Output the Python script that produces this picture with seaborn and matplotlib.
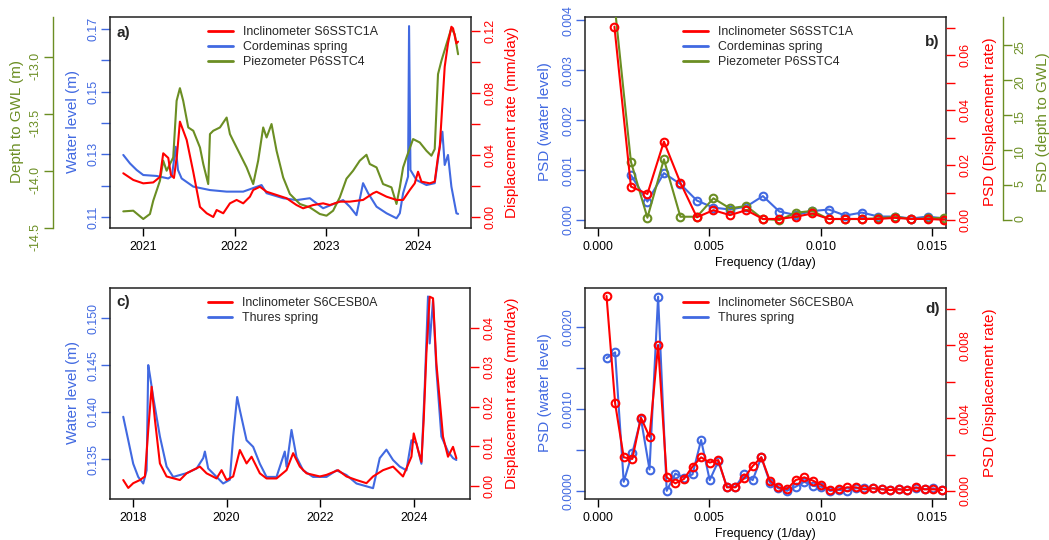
import numpy as np
import pandas as pd
import seaborn as sns
import matplotlib
matplotlib.use("Agg")
import matplotlib.pyplot as plt
from matplotlib.lines import Line2D

# ---------------- data ----------------
# Panel a: time series (decimal year)
a_blue_t = [2020.785, 2020.858, 2020.931, 2021.003, 2021.149, 2021.276, 2021.316, 2021.357, 2021.382,
            2021.422, 2021.549, 2021.731, 2021.913, 2022.094, 2022.294, 2022.349, 2022.530, 2022.676,
            2022.821, 2022.966, 2023.184, 2023.257, 2023.330, 2023.402, 2023.457, 2023.549, 2023.658,
            2023.767, 2023.803, 2023.839, 2023.893, 2023.904, 2023.919, 2023.985, 2024.094, 2024.184,
            2024.239, 2024.268, 2024.293, 2024.329, 2024.366, 2024.421, 2024.439]
a_blue_v = [0.1298, 0.1271, 0.1250, 0.1234, 0.1231, 0.1223, 0.1231, 0.1324, 0.1250,
            0.1223, 0.1197, 0.1186, 0.1181, 0.1181, 0.1202, 0.1176, 0.1160, 0.1154,
            0.1160, 0.1128, 0.1154, 0.1133, 0.1106, 0.1208, 0.1176, 0.1133, 0.1112,
            0.1096, 0.1112, 0.1176, 0.1229, 0.1709, 0.1250, 0.1218, 0.1202, 0.1208,
            0.1324, 0.1372, 0.1266, 0.1298, 0.1197, 0.1112, 0.1110]

a_red_t = [2020.785, 2020.894, 2021.003, 2021.112, 2021.185, 2021.221, 2021.276, 2021.305, 2021.338,
           2021.371, 2021.403, 2021.477, 2021.549, 2021.622, 2021.695, 2021.767, 2021.804, 2021.876,
           2021.949, 2022.022, 2022.094, 2022.167, 2022.203, 2022.276, 2022.349, 2022.458, 2022.567,
           2022.676, 2022.748, 2022.857, 2022.966, 2023.039, 2023.148, 2023.257, 2023.402, 2023.511,
           2023.549, 2023.658, 2023.767, 2023.839, 2023.912, 2023.966, 2024.002, 2024.039, 2024.130,
           2024.184, 2024.220, 2024.239, 2024.293, 2024.329, 2024.366, 2024.384, 2024.421, 2024.439]
a_red_v = [0.0282, 0.0239, 0.0217, 0.0223, 0.0258, 0.0411, 0.0381, 0.0271, 0.0252,
           0.0400, 0.0615, 0.0497, 0.0290, 0.0065, 0.0024, 0.0000, 0.0045, 0.0024,
           0.0088, 0.0110, 0.0088, 0.0131, 0.0174, 0.0195, 0.0163, 0.0142, 0.0121,
           0.0077, 0.0056, 0.0077, 0.0088, 0.0077, 0.0099, 0.0099, 0.0110, 0.0153,
           0.0163, 0.0131, 0.0110, 0.0110, 0.0174, 0.0217, 0.0292, 0.0228, 0.0217,
           0.0228, 0.0389, 0.0453, 0.0969, 0.1120, 0.1227, 0.1217, 0.1120, 0.1131]

a_green_t = [2020.785, 2020.894, 2021.003, 2021.076, 2021.112, 2021.185, 2021.221, 2021.258, 2021.330,
             2021.367, 2021.403, 2021.439, 2021.494, 2021.549, 2021.622, 2021.658, 2021.712, 2021.731,
             2021.767, 2021.840, 2021.913, 2021.949, 2021.985, 2022.058, 2022.131, 2022.203, 2022.257,
             2022.312, 2022.349, 2022.403, 2022.458, 2022.530, 2022.603, 2022.712, 2022.821, 2022.930,
             2023.003, 2023.075, 2023.148, 2023.221, 2023.293, 2023.366, 2023.439, 2023.475, 2023.549,
             2023.620, 2023.712, 2023.767, 2023.803, 2023.839, 2023.876, 2023.948, 2024.021, 2024.094,
             2024.148, 2024.184, 2024.220, 2024.257, 2024.312, 2024.366, 2024.402, 2024.439]
a_green_v = [-14.357, -14.351, -14.424, -14.380, -14.263, -14.088, -13.912, -14.000, -13.883,
             -13.386, -13.275, -13.386, -13.620, -13.649, -13.796, -13.941, -14.117, -13.678,
             -13.649, -13.620, -13.533, -13.678, -13.737, -13.854, -13.971, -14.117, -13.912,
             -13.620, -13.708, -13.590, -13.825, -14.059, -14.204, -14.292, -14.322, -14.380,
             -14.395, -14.351, -14.234, -14.070, -14.000, -13.912, -13.860, -13.941, -13.971,
             -14.117, -14.146, -14.292, -14.146, -13.971, -13.883, -13.722, -13.752, -13.825,
             -13.868, -13.810, -13.152, -13.035, -12.889, -12.749, -12.801, -12.977]

# Panel b: PSD, frequencies k / 1350 days
b_k = list(range(1, 22))
b_red = [0.0705, 0.0122, 0.0095, 0.0286, 0.0136, 0.0010, 0.0036, 0.0018, 0.0036, 0.0004, 0.0004,
         0.0012, 0.0024, 0.0004, 0.0004, 0.0004, 0.0004, 0.0008, 0.0004, 0.0004, 0.0001]
b_blue_k = list(range(2, 22))
b_blue = [0.00090, 0.00037, 0.00094, 0.00072, 0.00039, 0.00025, 0.00021, 0.00027, 0.00048, 0.00017,
          0.00010, 0.00018, 0.00021, 0.00009, 0.00015, 0.00007, 0.00007, 0.00003, 0.00007, 0.00003]
b_green = [31.0, 8.33, 0.33, 8.67, 0.47, 0.47, 3.1, 1.67, 2.0, 0.14, 0.0,
           1.05, 1.29, 0.14, 0.14, 0.14, 0.24, 0.47, 0.14, 0.24, 0.33]

# Panel c: time series
c_blue_t = [2017.793, 2017.900, 2018.006, 2018.113, 2018.220, 2018.292, 2018.327, 2018.363, 2018.433,
            2018.576, 2018.719, 2018.860, 2019.146, 2019.360, 2019.501, 2019.537, 2019.607, 2019.787,
            2019.927, 2020.070, 2020.141, 2020.226, 2020.284, 2020.427, 2020.568, 2020.711, 2020.854,
            2021.067, 2021.244, 2021.281, 2021.387, 2021.494, 2021.635, 2021.848, 2022.134, 2022.348,
            2022.561, 2022.775, 2022.988, 2023.129, 2023.272, 2023.415, 2023.556, 2023.699, 2023.842,
            2023.949, 2024.055, 2024.162, 2024.233, 2024.303, 2024.339, 2024.410, 2024.482, 2024.589,
            2024.730, 2024.837, 2024.909]
c_blue_v = [0.1395, 0.1370, 0.1345, 0.1331, 0.1324, 0.1338, 0.1450, 0.1439, 0.1416,
            0.1374, 0.1342, 0.1331, 0.1335, 0.1340, 0.1351, 0.1358, 0.1340, 0.1331,
            0.1324, 0.1328, 0.1374, 0.1416, 0.1402, 0.1370, 0.1363, 0.1345, 0.1331,
            0.1331, 0.1358, 0.1342, 0.1381, 0.1352, 0.1338, 0.1331, 0.1331, 0.1338,
            0.1333, 0.1324, 0.1321, 0.1319, 0.1351, 0.1360, 0.1349, 0.1342, 0.1338,
            0.1370, 0.1367, 0.1345, 0.1427, 0.1523, 0.1473, 0.1519, 0.1445, 0.1374,
            0.1358, 0.1351, 0.1349]

c_red_t = [2017.793, 2017.900, 2018.006, 2018.149, 2018.256, 2018.327, 2018.399, 2018.470, 2018.576,
           2018.719, 2019.003, 2019.146, 2019.430, 2019.573, 2019.787, 2019.893, 2020.000, 2020.141,
           2020.284, 2020.427, 2020.534, 2020.711, 2020.854, 2021.067, 2021.281, 2021.422, 2021.565,
           2021.708, 2021.993, 2022.134, 2022.382, 2022.561, 2022.775, 2022.988, 2023.129, 2023.343,
           2023.556, 2023.769, 2023.949, 2023.998, 2024.090, 2024.162, 2024.211, 2024.269, 2024.339,
           2024.410, 2024.482, 2024.553, 2024.623, 2024.730, 2024.837, 2024.909]
c_red_v = [0.0015, -0.0005, 0.0007, 0.0015, 0.0024, 0.0142, 0.0251, 0.0167, 0.0057,
           0.0024, 0.0015, 0.0032, 0.0049, 0.0032, 0.0019, 0.0040, 0.0015, 0.0024,
           0.0091, 0.0057, 0.0074, 0.0032, 0.0019, 0.0019, 0.0040, 0.0083, 0.0049,
           0.0032, 0.0024, 0.0028, 0.0040, 0.0024, 0.0015, 0.0007, 0.0024, 0.0040,
           0.0049, 0.0024, 0.0074, 0.0133, 0.0091, 0.0061, 0.0167, 0.0336, 0.0479,
           0.0475, 0.0310, 0.0218, 0.0125, 0.0074, 0.0099, 0.0070]

# Panel d: PSD, frequencies k / 2590 days
d_k = list(range(1, 41))
d_red = [0.01071, 0.00482, 0.00185, 0.00176, 0.00403, 0.00298, 0.00802, 0.00075, 0.00042, 0.00066,
         0.00134, 0.00185, 0.00156, 0.00170, 0.00020, 0.00020, 0.00070, 0.00137, 0.00185, 0.00057,
         0.00020, 0.00011, 0.00060, 0.00075, 0.00057, 0.00033, 0.00005, 0.00009, 0.00020, 0.00020,
         0.00009, 0.00015, 0.00009, 0.00005, 0.00009, 0.00005, 0.00020, 0.00009, 0.00009, 0.00005]
d_blue = [0.00162, 0.00169, 0.00011, 0.00046, 0.00088, 0.00026, 0.00237, 0.00000, 0.00021, 0.00016,
          0.00020, 0.00062, 0.00013, 0.00036, 0.00005, 0.00005, 0.00020, 0.00013, 0.00041, 0.00010,
          0.00003, 0.00000, 0.00005, 0.00011, 0.00006, 0.00005, 0.00000, 0.00001, 0.00000, 0.00003,
          0.00003, 0.00003, 0.00002, 0.00001, 0.00002, 0.00001, 0.00003, 0.00002, 0.00003, 0.00001]

N_b = 1350.0
N_d = 2590.0

# ---------------- style ----------------
sns.set_theme(style="white")
plt.rcParams['font.family'] = ['Liberation Sans', 'DejaVu Sans']
plt.rcParams['axes.unicode_minus'] = False

BLUE = '#4169E1'
RED = '#FF0000'
GREEN = '#6B8E23'
TS = 8.9    # tick / legend font size
LS = 11.0   # axis label size
LW = 1.5

W, H = 1049, 540
fig = plt.figure(figsize=(W / 100, H / 100), dpi=100)


def rect(l, t, r, b):
    return [l / W, 1 - b / H, (r - l) / W, (b - t) / H]


def base_axes(r, xlim, xticks, xlabels):
    ax = fig.add_axes(r)
    ax.set_facecolor('none')
    ax.set_xlim(xlim)
    ax.set_xticks(xticks)
    ax.set_xticklabels(xlabels)
    ax.tick_params(axis='x', bottom=True, length=6, width=1, color='black', direction='out',
                   labelsize=TS, pad=3.5, labelcolor='black')
    for s in ax.spines.values():
        s.set_visible(True)
        s.set_color('#222222')
        s.set_linewidth(1.1)
    ax.grid(False)
    return ax


def style_y(a, side, color, lim, ticks, labels, pad):
    a.set_ylim(lim)
    a.set_yticks(ticks)
    a.set_yticklabels(labels)
    kw = dict(axis='y', colors=color, length=6.5, width=1, direction='out',
              labelsize=TS, pad=pad, labelrotation=90)
    if side == 'left':
        kw.update(left=True, right=False, labelleft=True, labelright=False)
    else:
        kw.update(left=False, right=True, labelleft=False, labelright=True)
    a.tick_params(**kw)
    for lab in a.get_yticklabels():
        lab.set_va('center')
    a.set_ylabel('')
    a.set_xlabel('')


def twin(ax):
    t = ax.twinx()
    t.set_facecolor('none')
    for s in t.spines.values():
        s.set_visible(False)
    t.grid(False)
    return t


def line(a, x, y, color, markers=False):
    kw = dict(x=x, y=y, ax=a, color=color, linewidth=LW, sort=False, estimator=None,
              solid_joinstyle='round', solid_capstyle='round')
    if markers:
        kw.update(marker='o', markersize=5.5, markerfacecolor='none',
                  markeredgecolor=color, markeredgewidth=1.5)
    sns.lineplot(**kw)


def legend(a, labels, colors):
    handles = [Line2D([0], [0], color=c, lw=2) for c in colors]
    a.legend(handles, labels, loc='upper left', bbox_to_anchor=(0.2715, 0.957), frameon=False,
             borderaxespad=0, borderpad=0, handlelength=2.0, handletextpad=0.8,
             labelspacing=0.25, fontsize=TS)


def vtext(x, y, s, color):
    fig.text(x / W, 1 - y / H, s, rotation=90, ha='center', va='center', color=color, fontsize=LS)


# ---------------- panel a ----------------
ax = base_axes(rect(110, 17, 471, 228), (2020.64, 2024.58), [2021, 2022, 2023, 2024],
               ['2021', '2022', '2023', '2024'])
line(ax, a_blue_t, a_blue_v, BLUE)
style_y(ax, 'left', BLUE, (0.1065, 0.1738), [0.11, 0.12, 0.13, 0.14, 0.15, 0.16, 0.17],
        ['0.11', '', '0.13', '', '0.15', '', '0.17'], 1)
ag = twin(ax)
line(ag, a_green_t, a_green_v, GREEN)
style_y(ag, 'left', GREEN, (-14.503, -12.65), [-14.5, -14.0, -13.5, -13.0],
        ['-14.5', '-14.0', '-13.5', '-13.0'], 1.5)
ag.spines['left'].set_visible(True)
ag.spines['left'].set_position(('outward', 41))
ag.spines['left'].set_color(GREEN)
ag.spines['left'].set_linewidth(1)
ar = twin(ax)
line(ar, a_red_t, a_red_v, RED)
style_y(ar, 'right', RED, (-0.0071, 0.129), [0, 0.02, 0.04, 0.06, 0.08, 0.10, 0.12],
        ['0.00', '', '0.04', '', '0.08', '', '0.12'], 3)
legend(ar, ['Inclinometer S6SSTC1A', 'Cordeminas spring', 'Piezometer P6SSTC4'], [RED, BLUE, GREEN])
ar.text(0.017, 0.924, 'a)', transform=ar.transAxes, fontsize=11, fontweight='bold', ha='left', va='center')
vtext(73, 122, 'Water level (m)', BLUE)
vtext(17, 122, 'Depth to GWL (m)', GREEN)
vtext(512, 122, 'Displacement rate (mm/day)', RED)

# ---------------- panel b ----------------
fb = [k / N_b for k in b_k]
fbb = [k / N_b for k in b_blue_k]
bx = base_axes(rect(585, 17, 946, 228), (-0.00058, 0.01563), [0, 0.005, 0.010, 0.015],
               ['0.000', '0.005', '0.010', '0.015'])
line(bx, fbb, b_blue, BLUE, markers=True)
style_y(bx, 'left', BLUE, (-0.00016, 0.00407), [0, 0.001, 0.002, 0.003, 0.004],
        ['0.000', '0.001', '0.002', '0.003', '0.004'], 1)
bx.set_xlabel('Frequency (1/day)', fontsize=TS, labelpad=3, color='black')
bg = twin(bx)
line(bg, fb, b_green, GREEN, markers=True)
style_y(bg, 'right', GREEN, (-1.14, 29.0), [0, 5, 10, 15, 20, 25],
        ['0', '5', '10', '15', '20', '25'], 1.5)
bg.spines['right'].set_visible(True)
bg.spines['right'].set_position(('outward', 41))
bg.spines['right'].set_color(GREEN)
bg.spines['right'].set_linewidth(1)
bg.spines['right'].set_bounds(0, 29.0)
br = twin(bx)
line(br, fb, b_red, RED, markers=True)
style_y(br, 'right', RED, (-0.0029, 0.074), [0, 0.01, 0.02, 0.03, 0.04, 0.05, 0.06, 0.07],
        ['0.00', '', '0.02', '', '0.04', '', '0.06', ''], 3)
legend(br, ['Inclinometer S6SSTC1A', 'Cordeminas spring', 'Piezometer P6SSTC4'], [RED, BLUE, GREEN])
br.text(0.983, 0.88, 'b)', transform=br.transAxes, fontsize=11, fontweight='bold', ha='right', va='center')
vtext(545, 122, 'PSD (water level)', BLUE)
vtext(990, 122, 'PSD (Displacement rate)', RED)
vtext(1043, 122, 'PSD (depth to GWL)', GREEN)

# ---------------- panel c ----------------
cx = base_axes(rect(110, 288, 470, 499), (2017.51, 2025.2), [2018, 2020, 2022, 2024],
               ['2018', '2020', '2022', '2024'])
line(cx, c_blue_t, c_blue_v, BLUE)
style_y(cx, 'left', BLUE, (0.13075, 0.1532), [0.135, 0.140, 0.145, 0.150],
        ['0.135', '0.140', '0.145', '0.150'], 1)
cr = twin(cx)
line(cr, c_red_t, c_red_v, RED)
style_y(cr, 'right', RED, (-0.0033, 0.0501), [0, 0.01, 0.02, 0.03, 0.04],
        ['0.00', '0.01', '0.02', '0.03', '0.04'], 3)
legend(cr, ['Inclinometer S6CESB0A', 'Thures spring'], [RED, BLUE])
cr.text(0.017, 0.934, 'c)', transform=cr.transAxes, fontsize=11, fontweight='bold', ha='left', va='center')
vtext(73, 393, 'Water level (m)', BLUE)
vtext(512, 393, 'Displacement rate (mm/day)', RED)

# ---------------- panel d ----------------
fd = [k / N_d for k in d_k]
dx = base_axes(rect(585, 288, 946, 499), (-0.00058, 0.01563), [0, 0.005, 0.010, 0.015],
               ['0.000', '0.005', '0.010', '0.015'])
line(dx, fd, d_blue, BLUE, markers=True)
style_y(dx, 'left', BLUE, (-0.0001, 0.002476), [0, 0.0005, 0.0010, 0.0015, 0.0020],
        ['0.0000', '', '0.0010', '', '0.0020'], 1)
dx.set_xlabel('Frequency (1/day)', fontsize=TS, labelpad=3, color='black')
dr = twin(dx)
line(dr, fd, d_red, RED, markers=True)
style_y(dr, 'right', RED, (-0.00044, 0.01115), [0, 0.002, 0.004, 0.006, 0.008, 0.010],
        ['0.000', '', '0.004', '', '0.008', ''], 3)
legend(dr, ['Inclinometer S6CESB0A', 'Thures spring'], [RED, BLUE])
dr.text(0.983, 0.90, 'd)', transform=dr.transAxes, fontsize=11, fontweight='bold', ha='right', va='center')
vtext(545, 393, 'PSD (water level)', BLUE)
vtext(990, 393, 'PSD (Displacement rate)', RED)

fig.savefig('out.png', dpi=100)
